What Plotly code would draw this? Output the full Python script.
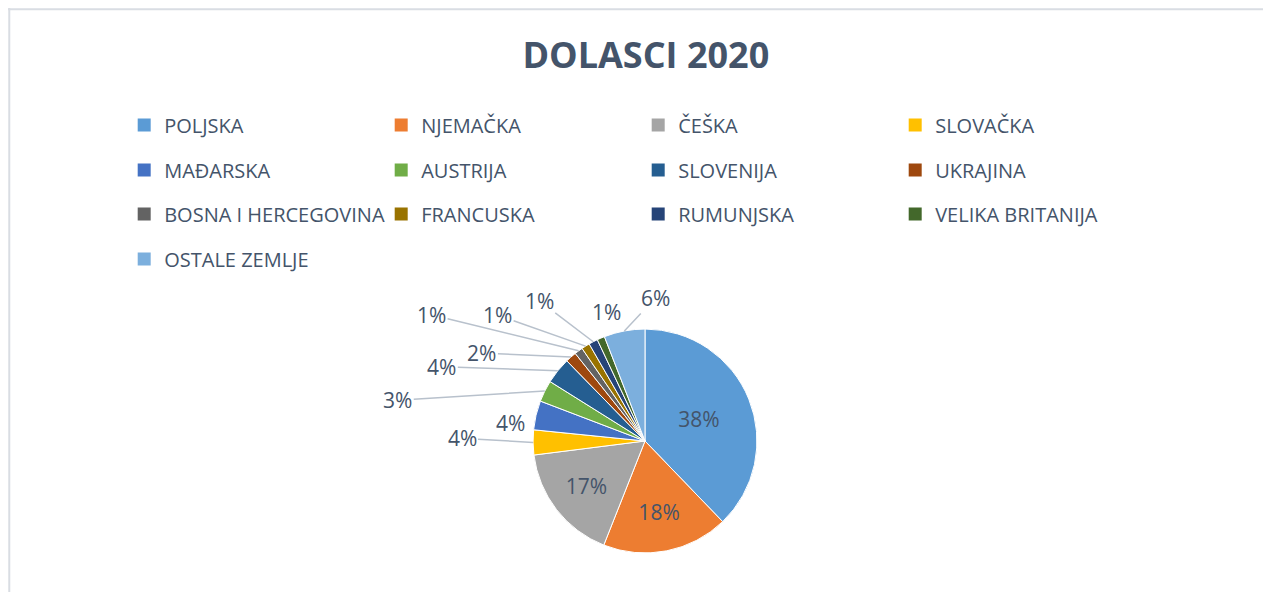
# Dolasci 2020 - pie chart of arrivals by country
import math
import plotly.graph_objects as go

countries = ['POLJSKA', 'NJEMAČKA', 'ČEŠKA', 'SLOVAČKA',
             'MAĐARSKA', 'AUSTRIJA', 'SLOVENIJA', 'UKRAJINA',
             'BOSNA I HERCEGOVINA', 'FRANCUSKA', 'RUMUNJSKA', 'VELIKA BRITANIJA',
             'OSTALE ZEMLJE']
shares = [37.8, 18.2, 17.0, 3.6, 4.2, 3.1, 3.8, 1.6, 1.2, 1.2, 1.3, 1.1, 5.9]
colors = ['#5B9BD5', '#ED7D31', '#A5A5A5', '#FFC000',
          '#4472C4', '#70AD47', '#255E91', '#9E480E',
          '#636363', '#997300', '#264478', '#43682B',
          '#7CAFDD']

# Excel-style outside labels: pixel offset of each label from its slice edge,
# and whether a leader line is drawn (None = label drawn inside the slice)
label_dx = [None, None, None, -71, -26, -147, -116, -89, -147, -88, -54, 6, 31]
label_dy = [None, None, None, -4, 8, 9, -4, -4, -36, -31, -41, -26, -33]
leader = [False, False, False, True, False, True, True, True, True, True, True, False, True]

text_color = '#44546A'
leader_color = '#B8C1CC'
font_name = 'Open Sans'
W, H = 1263, 584   # page body has an 8px margin

dom_x = [0.4157, 0.5930]
dom_y = [0.0668, 0.4503]

fig = go.Figure()

fig.add_trace(go.Pie(
    labels=countries,
    values=shares,
    sort=False,
    direction='clockwise',
    rotation=0,
    marker=dict(colors=colors, line=dict(color='white', width=1)),
    texttemplate='%{percent:.0%}',
    textposition=['inside' if d is None else 'none' for d in label_dx],
    insidetextorientation='horizontal',
    textfont=dict(family=font_name, size=21, color=text_color),
    domain=dict(x=dom_x, y=dom_y),
    showlegend=False,
    hoverinfo='label+percent',
))

# outside labels with leader lines, anchored on the slice edges
total = sum(shares)
cx = (dom_x[0] + dom_x[1]) / 2
cy = (dom_y[0] + dom_y[1]) / 2
r = min((dom_x[1] - dom_x[0]) * W, (dom_y[1] - dom_y[0]) * H) / 2
cum = 0
for i, v in enumerate(shares):
    mid = (cum + v / 2) / total * 2 * math.pi
    cum += v
    if label_dx[i] is None:
        continue
    fig.add_annotation(
        x=cx + r * math.sin(mid) / W, y=cy + r * math.cos(mid) / H,
        xref='paper', yref='paper',
        text=f'{round(v / total * 100)}%',
        showarrow=True, arrowhead=0, arrowwidth=1.5,
        arrowcolor=leader_color if leader[i] else 'rgba(0,0,0,0)',
        ax=label_dx[i], ay=label_dy[i],
        font=dict(family=font_name, size=21, color=text_color),
    )

# legend drawn as four rows (one legend per row) to get Excel-like spacing
row_y = [117, 162, 206, 251]
legend_names = ['legend', 'legend2', 'legend3', 'legend4']
for i, name in enumerate(countries):
    fig.add_trace(go.Scatter(
        x=[None], y=[None], mode='markers', name=name,
        marker=dict(symbol='square', size=13, color=colors[i]),
        legend=legend_names[i // 4],
    ))

legend_style = dict(
    orientation='h', x=0.092, xanchor='left', yanchor='middle',
    entrywidth=212, entrywidthmode='pixels',
    font=dict(family=font_name, size=20, color=text_color),
    itemclick=False, itemdoubleclick=False,
    bgcolor='rgba(0,0,0,0)',
)
layout_legends = {}
for name, y in zip(legend_names, row_y):
    layout_legends[name] = dict(legend_style, y=1 - y / H)

fig.update_layout(
    width=W, height=H,
    margin=dict(l=0, r=0, t=0, b=0),
    paper_bgcolor='white', plot_bgcolor='white',
    title=dict(text='DOLASCI 2020', x=0.505, xanchor='center',
               y=1 - 47 / H, yanchor='middle',
               font=dict(family=font_name, size=36, color=text_color, weight='bold')),
    xaxis=dict(visible=False), yaxis=dict(visible=False),
    **layout_legends,
)

# light chart-area border (top and left edges visible in the reference)
fig.add_shape(type='line', xref='paper', yref='paper', x0=0, x1=1, y0=0.998, y1=0.998,
              line=dict(color='#D9DDE3', width=2))
fig.add_shape(type='line', xref='paper', yref='paper', x0=0.001, x1=0.001, y0=0, y1=1,
              line=dict(color='#D9DDE3', width=2))

fig.write_html("out.html")
